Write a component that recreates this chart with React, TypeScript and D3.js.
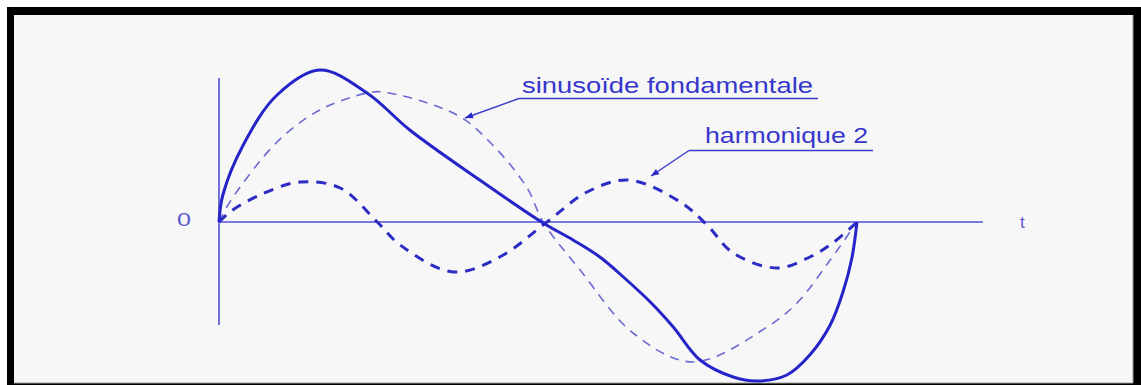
import React from "react";
import * as d3 from "d3";

// t: fraction of one period, v: amplitude (arbitrary units)
const fundamental: [number, number][] = [
  [0, 0], [0.017, 0.2], [0.091, 0.8], [0.158, 1.12], [0.232, 1.29], [0.257, 1.3],
  [0.373, 1.07], [0.429, 0.77], [0.483, 0.34], [0.508, 0], [0.566, -0.48],
  [0.649, -1.11], [0.743, -1.4], [0.859, -1.05], [0.906, -0.81], [0.958, -0.38], [1, 0],
];
const harmonic: [number, number][] = [
  [0, 0], [0.017, 0.1], [0.064, 0.27], [0.127, 0.4], [0.19, 0.34], [0.248, 0],
  [0.284, -0.23], [0.367, -0.5], [0.44, -0.35], [0.514, 0], [0.577, 0.3],
  [0.642, 0.42], [0.723, 0.2], [0.765, -0.03], [0.806, -0.31], [0.875, -0.46],
  [0.926, -0.35], [0.962, -0.21], [1, 0],
];
const resultant: [number, number][] = [
  [0, 0], [0.006, 0.27], [0.038, 0.77], [0.091, 1.27], [0.158, 1.52],
  [0.232, 1.29], [0.299, 0.92], [0.404, 0.44], [0.508, -0.01], [0.555, -0.18],
  [0.597, -0.35], [0.639, -0.58], [0.676, -0.8], [0.712, -1.05], [0.754, -1.38],
  [0.806, -1.55], [0.843, -1.59], [0.89, -1.53], [0.926, -1.33], [0.958, -1.03],
  [0.978, -0.7], [0.992, -0.36], [1, 0],
];
const labels = ["sinusoïde fondamentale", "harmonique 2"];
const originLabel = "0";
const axisLabel = "t";

export default function App() {
  const W = 1141, H = 385;
  const x = d3.scaleLinear().domain([0, 1]).range([219, 857]);
  const y = d3.scaleLinear().domain([-1, 1]).range([322, 122]);
  const line = d3.line<[number, number]>()
    .x(d => x(d[0]))
    .y(d => y(d[1]))
    .curve(d3.curveCatmullRom.alpha(0.5));
  const blue = "#2424c8";
  const font = "'Liberation Sans', Arial, sans-serif";
  return (
    <svg width={W} height={H} style={{ position: "absolute", left: 0, top: 0 }}>
      <defs>
        <marker id="arr" viewBox="0 0 10 10" refX="10" refY="5" markerWidth="12" markerHeight="8"
          markerUnits="userSpaceOnUse" orient="auto">
          <path d="M0,1 L10,5 L0,9 Z" fill="#2a2acc" />
        </marker>
      </defs>
      <rect x={0} y={0} width={W} height={H} fill="#ffffff" />
      <rect x={7} y={7} width={W - 7} height={H - 7} fill="#000000" />
      <rect x={14} y={15} width={1119} height={368} fill="#f7f7f7" />
      <line x1={14} y1={383} x2={1133} y2={383} stroke="#9a9a9a" strokeWidth={1} />
      <line x1={1133} y1={15} x2={1133} y2={383} stroke="#9a9a9a" strokeWidth={1} />

      {/* axes */}
      <line x1={x(0)} y1={y(0)} x2={x(1.1975)} y2={y(0)} stroke="#5050d4" strokeWidth={1.6} />
      <line x1={x(0)} y1={y(1.44)} x2={x(0)} y2={y(-1.03)} stroke="#5050d4" strokeWidth={1.6} />

      {/* curves */}
      <path d={line(fundamental) || ""} fill="none" stroke="#6a6ad2" strokeWidth={1.6}
        strokeDasharray="9 7" />
      <path d={line(harmonic) || ""} fill="none" stroke="#2c2cc4" strokeWidth={3}
        strokeDasharray="10 8" />
      <path d={line(resultant) || ""} fill="none" stroke={blue} strokeWidth={3} />

      {/* labels */}
      <text x={522} y={93} fontFamily={font} fontSize={22} fill="#3636cc"
        textLength={291} lengthAdjust="spacingAndGlyphs">{labels[0]}</text>
      <line x1={519} y1={98.5} x2={818} y2={98.5} stroke="#3a3acc" strokeWidth={1.5} />
      <line x1={519} y1={98.5} x2={465} y2={118} stroke="#3a3acc" strokeWidth={1.5} markerEnd="url(#arr)" />

      <text x={705} y={143} fontFamily={font} fontSize={22} fill="#3636cc"
        textLength={163} lengthAdjust="spacingAndGlyphs">{labels[1]}</text>
      <line x1={689} y1={150.5} x2={873} y2={150.5} stroke="#3a3acc" strokeWidth={1.5} />
      <line x1={689} y1={150.5} x2={651} y2={176} stroke="#3a3acc" strokeWidth={1.5} markerEnd="url(#arr)" />

      <text x={177} y={226} fontFamily={font} fontSize={18} fill="#5a5ad0"
        textLength={14} lengthAdjust="spacingAndGlyphs">{originLabel}</text>
      <text x={1020} y={228} fontFamily={font} fontSize={17} fill="#5a5ad0">{axisLabel}</text>
    </svg>
  );
}
